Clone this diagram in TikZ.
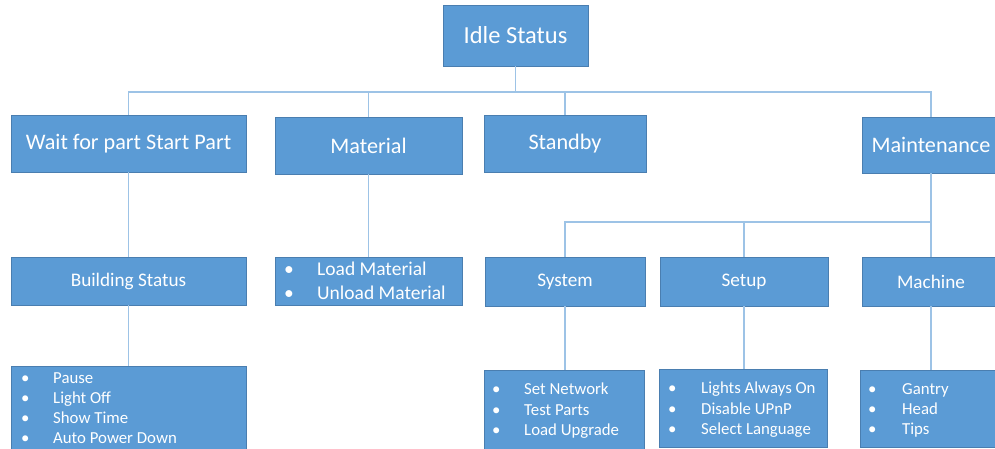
\documentclass[tikz,border=0pt]{standalone}
\usepackage{fontspec}
\setmainfont{Carlito}
\definecolor{boxfill}{HTML}{5B9BD5}
\definecolor{boxedge}{HTML}{4A7EB0}
\definecolor{linkblue}{HTML}{9DC3E6}
\begin{document}
\begin{tikzpicture}[x=1pt,y=-1pt,
  box/.style={draw=boxedge, line width=0.7pt, fill=boxfill, text=white, inner sep=0pt},
  top/.style={box, font=\fontsize{24.5}{28}\selectfont},
  head/.style={box, font=\fontsize{22.2}{26}\selectfont},
  sub/.style={box, font=\fontsize{19.2}{22}\selectfont},
  item/.style={anchor=base west, text=white, inner sep=0pt, font=\fontsize{16.8}{20}\selectfont},
  bigitem/.style={item, font=\fontsize{19.5}{24}\selectfont},
  conn/.style={draw=linkblue, line width=1.4pt}]
\useasboundingbox (0,0) rectangle (995,449);
\clip (0,0) rectangle (995,449);

% top of the tree
\node[top, minimum width=145, minimum height=61] (idle) at (515.5,35.5) {Idle Status};

% second level
\node[head, minimum width=235, minimum height=57] (wait) at (128.5,143.5) {Wait for part Start Part};
\node[head, minimum width=187, minimum height=57] (material) at (368.5,145.5) {Material};
\node[head, minimum width=162, minimum height=57] (standby) at (565,143.5) {Standby};
\node[head, minimum width=138, minimum height=56] (maint) at (931,145) {Maintenance};

% third level
\node[sub, minimum width=235, minimum height=48] (building) at (128.5,281) {Building Status};
\node[box, minimum width=187, minimum height=48] (matlist) at (368.5,281) {};
\node[sub, minimum width=160, minimum height=49] (system) at (565,281.5) {System};
\node[sub, minimum width=168, minimum height=49] (setup) at (744,281.5) {Setup};
\node[sub, minimum width=138, minimum height=49] (machine) at (931,281.5) {Machine};

% bullet boxes
\node[box, minimum width=235, minimum height=94] (buildlist) at (128.5,413) {};
\node[box, minimum width=160, minimum height=90] (syslist) at (564,415) {};
\node[box, minimum width=168, minimum height=78] (setuplist) at (743,408) {};
\node[box, minimum width=140, minimum height=77] (machlist) at (930,408.5) {};

% bullet entries
\foreach \t [count=\i] in {Load Material, Unload Material} {
  \node[bigitem] (mb\i) at (284,{269+24*(\i-1)+6.5}) {\textbullet};
  \node[bigitem] (mt\i) at (317,{269+24*(\i-1)+6.5}) {\t};
}
\foreach \t [count=\i] in {Pause, Light Off, Show Time, Auto Power Down} {
  \node[item] (bb\i) at (21,{378+20*(\i-1)+5.5}) {\textbullet};
  \node[item] (bt\i) at (53,{378+20*(\i-1)+5.5}) {\t};
}
\foreach \t [count=\i] in {Set Network, Test Parts, Load Upgrade} {
  \node[item] (sb\i) at (492,{389+20.5*(\i-1)+5.5}) {\textbullet};
  \node[item] (st\i) at (524,{389+20.5*(\i-1)+5.5}) {\t};
}
\foreach \t [count=\i] in {Lights Always On, Disable UPnP, Select Language} {
  \node[item] (ub\i) at (668,{388+20.5*(\i-1)+5.5}) {\textbullet};
  \node[item] (ut\i) at (701,{388+20.5*(\i-1)+5.5}) {\t};
}
\foreach \t [count=\i] in {Gantry, Head, Tips} {
  \node[item] (hb\i) at (868,{389+20*(\i-1)+5.5}) {\textbullet};
  \node[item] (ht\i) at (902,{389+20*(\i-1)+5.5}) {\t};
}

% connectors
\coordinate (bus) at (0,92);
\coordinate (bus2) at (0,222);
\draw[conn] (idle.south) -- (idle.south |- bus);
\draw[conn] (wait.north) -- (wait.north |- bus) -| (maint.north);
\draw[conn] (material.north) -- (material.north |- bus);
\draw[conn] (standby.north) -- (standby.north |- bus);
\draw[conn] (wait.south) -- (building.north);
\draw[conn] (building.south) -- (buildlist.north -| building.south);
\draw[conn] (material.south) -- (matlist.north);
\draw[conn] (maint.south) -- (maint.south |- bus2) -| (system.north);
\draw[conn] (setup.north) -- (setup.north |- bus2);
\draw[conn] (machine.north) -- (machine.north |- bus2);
\draw[conn] (system.south) -- (syslist.north -| system.south);
\draw[conn] (setup.south) -- (setuplist.north -| setup.south);
\draw[conn] (machine.south) -- (machlist.north -| machine.south);
\end{tikzpicture}
\end{document}
